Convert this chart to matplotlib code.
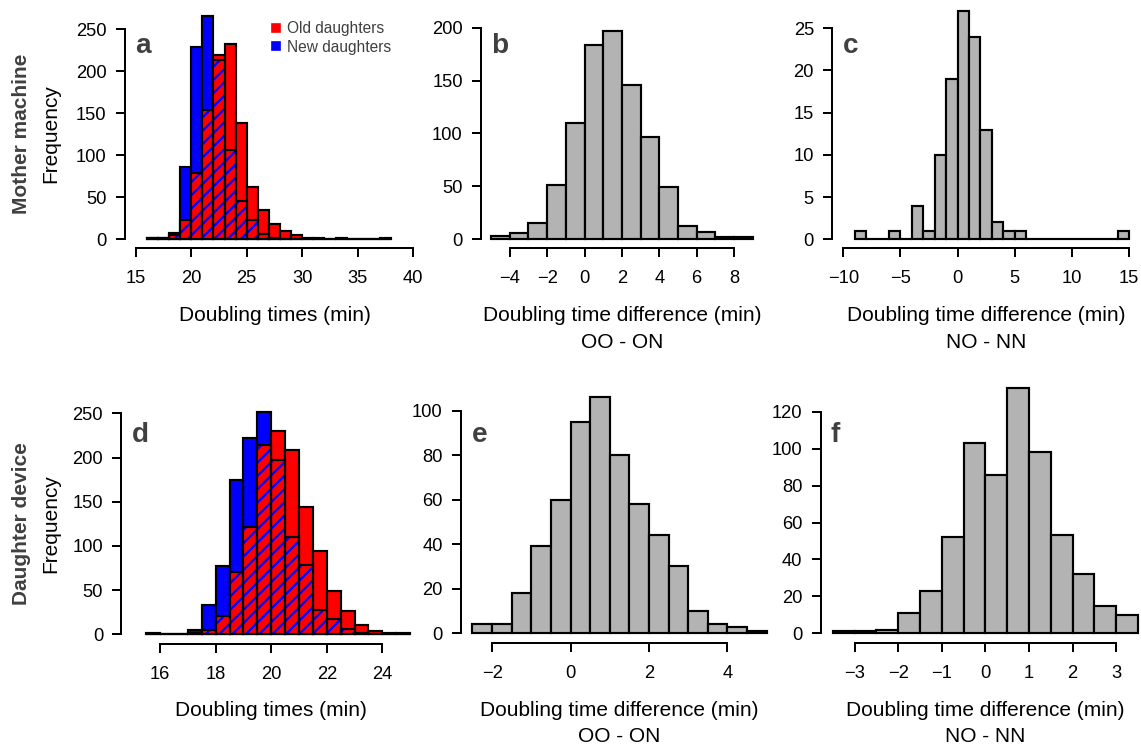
import numpy as np
import matplotlib
matplotlib.use('Agg')
from matplotlib import pyplot as plt
from matplotlib.lines import Line2D

plt.rcParams['font.family'] = ['Liberation Sans', 'DejaVu Sans']
plt.rcParams['hatch.linewidth'] = 1.4

# Histogram counts
# a: mother machine doubling times, bins of 1 min from 16
a_start, a_width = 16, 1.0
a_old = [1, 2, 8, 23, 79, 154, 219, 233, 139, 62, 35, 18, 10, 5, 2, 1, 0, 1, 0, 0, 0, 1]
a_new = [1, 2, 5, 86, 229, 266, 214, 106, 45, 23, 6, 2, 0, 0, 0, 0, 0, 0, 0, 0, 0, 0]

# b: OO - ON difference, mother machine
b_start, b_width = -5, 1.0
b_counts = [3, 6, 15, 51, 110, 184, 197, 146, 97, 49, 13, 7, 2, 2]

# c: NO - NN difference, mother machine
c_start, c_width = -9, 1.0
c_counts = [1, 0, 0, 1, 0, 4, 1, 10, 19, 27, 24, 13, 2, 1, 1, 0, 0, 0, 0, 0, 0, 0, 0, 1]

# d: daughter device doubling times, bins of 0.5 min from 15.5
d_start, d_width = 15.5, 0.5
d_old = [1, 0, 0, 1, 5, 21, 70, 121, 214, 230, 209, 144, 94, 49, 26, 11, 4, 1, 1]
d_new = [0, 0, 0, 5, 33, 77, 175, 222, 252, 197, 110, 78, 27, 17, 6, 1, 0, 0, 0]

# e: OO - ON difference, daughter device
e_start, e_width = -2.5, 0.5
e_counts = [4, 4, 18, 39, 60, 95, 106, 80, 58, 44, 30, 10, 4, 3, 1]

# f: NO - NN difference, daughter device
f_start, f_width = -3.5, 0.5
f_counts = [1, 1, 2, 11, 23, 52, 103, 86, 133, 98, 53, 32, 15, 10]

# tick values
a_xticks = [15, 20, 25, 30, 35, 40]
b_xticks = [-4, -2, 0, 2, 4, 6, 8]
c_xticks = [-10, -5, 0, 5, 10, 15]
d_xticks = [16, 18, 20, 22, 24]
e_xticks = [-2, 0, 2, 4]
f_xticks = [-3, -2, -1, 0, 1, 2, 3]
a_yticks = [0, 50, 100, 150, 200, 250]
b_yticks = [0, 50, 100, 150, 200]
c_yticks = [0, 5, 10, 15, 20, 25]
d_yticks = [0, 50, 100, 150, 200, 250]
e_yticks = [0, 20, 40, 60, 80, 100]
f_yticks = [0, 20, 40, 60, 80, 100, 120]

W, H, DPI = 1141, 749, 120
fig = plt.figure(figsize=(W / DPI, H / DPI), dpi=DPI)

GREY = '#404040'
LW = 1.3


def fx(x):
    return x / W


def fy(y):
    return 1 - y / H


def make_axes(px_left, px_right, px_top, px_bottom, xlim, ylim, xticks, yticks):
    ax = fig.add_axes([fx(px_left), fy(px_bottom),
                       (px_right - px_left) / W, (px_bottom - px_top) / H])
    ax.set_xlim(xlim)
    ax.set_ylim(ylim)
    for s in ['top', 'right']:
        ax.spines[s].set_visible(False)
    ax.spines['left'].set_bounds(yticks[0], yticks[-1])
    ax.spines['bottom'].set_bounds(xticks[0], xticks[-1])
    for s in ['left', 'bottom']:
        ax.spines[s].set_linewidth(1.2)
    ax.set_xticks(xticks)
    ax.set_yticks(yticks)
    ax.tick_params(axis='both', direction='out', length=5.4, width=1.2,
                   labelsize=11, colors='black')
    ax.tick_params(axis='x', pad=7.8)
    ax.tick_params(axis='y', pad=5.4)
    ax.patch.set_visible(False)
    return ax


def grey_hist(ax, start, width, counts):
    left = start + width * np.arange(len(counts))
    ax.bar(left, counts, width=width, align='edge', color='#b3b3b3',
           edgecolor='black', linewidth=LW)


def pair_hist(ax, start, width, old, new):
    old = np.array(old)
    new = np.array(new)
    left = start + width * np.arange(len(old))
    top = np.maximum(old, new)
    low = np.minimum(old, new)
    cols = np.where(old >= new, 'red', 'blue')
    ax.bar(left, top, width=width, align='edge', color=cols,
           edgecolor='black', linewidth=LW)
    # overlap: red with blue stripes
    ax.bar(left, low, width=width, align='edge', facecolor='red',
           edgecolor='blue', hatch='///', linewidth=0)
    ax.bar(left, low, width=width, align='edge', fill=False,
           edgecolor='black', linewidth=LW)


def letter(ax, px_x, px_y, s):
    fig.text(fx(px_x), fy(px_y), s, fontsize=16.7, fontweight='bold',
             color=GREY, ha='left', va='baseline')


def xtitle(cx, py, lines):
    for i, s in enumerate(lines):
        fig.text(fx(cx), fy(py + 27 * i), s, fontsize=12.5, ha='center',
                 va='center', color='black')


# Panel a
ax_a = make_axes(124.6, 424.3, 7.0, 248.2, (14, 41), (-10.64, 276.64), a_xticks, a_yticks)
pair_hist(ax_a, a_start, a_width, a_old, a_new)
letter(ax_a, 135, 53, 'a')
handles = [Line2D([], [], marker='s', linestyle='', color='red', markersize=4.4),
           Line2D([], [], marker='s', linestyle='', color='blue', markersize=4.4)]
ax_a.legend(handles, ['Old daughters', 'New daughters'], loc='upper left',
            bbox_to_anchor=(fx(271.4), fy(21.5)), bbox_transform=fig.transFigure,
            frameon=False, handlelength=0.6, handletextpad=0.4, labelspacing=0.2,
            borderpad=0, borderaxespad=0, fontsize=9.3, labelcolor=GREY)
xtitle(274.5, 316, ['Doubling times (min)'])

# Panel b
ax_b = make_axes(480.7, 763.0, 22.4, 248.3, (-5.56, 9.56), (-8.5, 205), b_xticks, b_yticks)
grey_hist(ax_b, b_start, b_width, b_counts)
letter(ax_b, 490.7, 53, 'b')
xtitle(621.9, 316, ['Doubling time difference (min)', 'OO - ON'])

# Panel c
ax_c = make_axes(831.9, 1140.5, 2.3, 248.4, (-11, 16), (-1.08, 28.08), c_xticks, c_yticks)
grey_hist(ax_c, c_start, c_width, c_counts)
letter(ax_c, 842.7, 53, 'c')
xtitle(986.2, 316, ['Doubling time difference (min)', 'NO - NN'])

# Panel d
ax_d = make_axes(121.1, 421.3, 389.8, 643.7, (14.6, 25.4), (-10.64, 276.64), d_xticks, d_yticks)
pair_hist(ax_d, d_start, d_width, d_old, d_new)
letter(ax_d, 131.7, 442, 'd')
xtitle(271.2, 710, ['Doubling times (min)'])

# Panel e
ax_e = make_axes(460.7, 778.5, 387.9, 642.7, (-2.8, 5.3), (-4.24, 110.24), e_xticks, e_yticks)
grey_hist(ax_e, e_start, e_width, e_counts)
letter(ax_e, 472, 442, 'e')
xtitle(619.6, 710, ['Doubling time difference (min)', 'OO - ON'])

# Panel f
ax_f = make_axes(820.5, 1150.3, 378.0, 643.1, (-3.78, 3.78), (-5.32, 138.3), f_xticks, f_yticks)
grey_hist(ax_f, f_start, f_width, f_counts)
letter(ax_f, 830.7, 442, 'f')
xtitle(985.4, 710, ['Doubling time difference (min)', 'NO - NN'])

# Row labels
for py, row in [(134, 'Mother machine'), (524, 'Daughter device')]:
    fig.text(fx(22), fy(py), row, rotation=90, fontsize=12.5, fontweight='bold',
             color=GREY, ha='center', va='center')
    fig.text(fx(51), fy(py), 'Frequency', rotation=90, fontsize=12.5,
             color='black', ha='center', va='center')

fig.savefig('out.png', dpi=DPI)
